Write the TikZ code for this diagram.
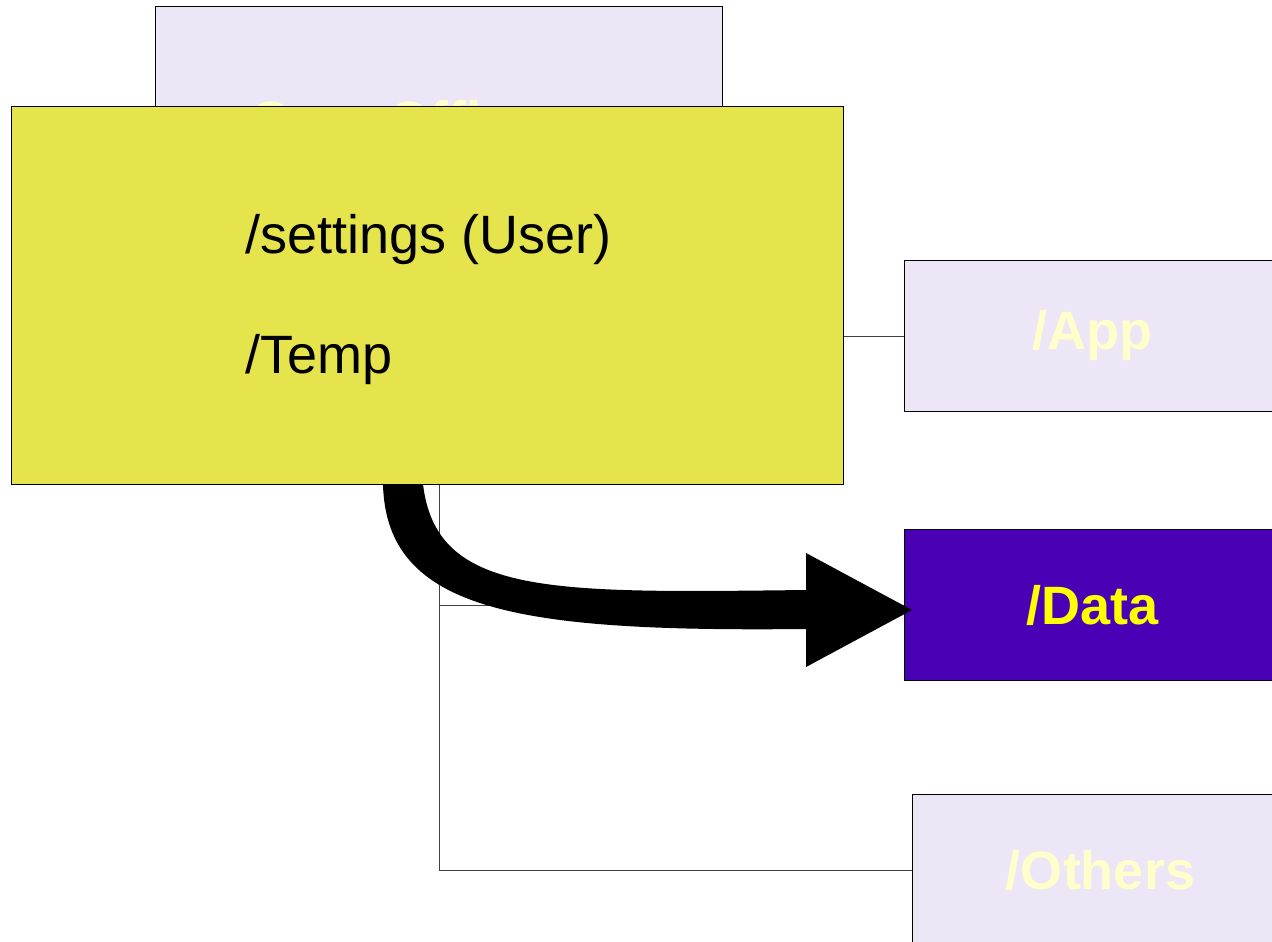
\documentclass[tikz,border=0pt]{standalone}
\usepackage{fontspec}
\setmainfont{Liberation Sans}
\definecolor{lilac}{RGB}{236,230,246}
\definecolor{paleyel}{RGB}{255,255,204}
\definecolor{yelbox}{RGB}{230,228,76}
\definecolor{purp}{RGB}{74,0,180}
\definecolor{brightyel}{RGB}{255,255,0}
\begin{document}
\begin{tikzpicture}[x=1pt,y=-1pt,
  boxnode/.style={draw=black,line width=1pt,fill=lilac,anchor=north west,inner sep=0pt,
    minimum width=376pt,minimum height=151pt,text=paleyel,
    font=\fontsize{54}{64}\selectfont\bfseries},
  treeline/.style={draw=black!75,line width=1pt},
  bigtext/.style={font=\fontsize{54}{64}\selectfont,text=black,inner sep=0pt,anchor=base west}]
\useasboundingbox (0,0) rectangle (1272,942);
\begin{scope}
\clip (0,0) rectangle (1272,942);
% top box (mostly hidden)
\node[boxnode,minimum width=567pt,minimum height=228pt] (top) at (155,6) {};
\node[inner sep=0pt,anchor=base west,text=paleyel,font=\fontsize{54}{64}\selectfont\bfseries] (toplbl) at (250,139) {OpenOffice.org};
% right boxes
\node[boxnode] (app) at (904,260) {\raisebox{-2pt}{/App}};
\node[boxnode,fill=purp,text=brightyel] (data) at (904,529) {\raisebox{-1pt}{/Data}};
\node[boxnode,minimum height=152pt] (others) at (912,794) {/Others};
% tree connectors
\draw[treeline] (top.south) |- (app.west);
\draw[treeline] (top.south) |- (data.west);
\draw[treeline] (top.south) |- (others.west);
% big curved arrow
\coordinate (astart) at (383,484);
\coordinate (atip) at (912,610);
\fill[black] (astart) .. controls (386,612) and (520,632) .. (806,629)
  -- (806,667) -- (atip) -- (806,553) -- (806,590)
  .. controls (550,593) and (436,596) .. (423,484) -- cycle;
% yellow box
\node[draw=black,line width=1pt,fill=yelbox,anchor=north west,inner sep=0pt,
  minimum width=832pt,minimum height=378pt] (yel) at (11,106) {};
\node[bigtext] (s1) at (245,253) {/settings (User)};
\node[bigtext] (s2) at (245,373) {/Temp};
\end{scope}
\end{tikzpicture}
\end{document}
